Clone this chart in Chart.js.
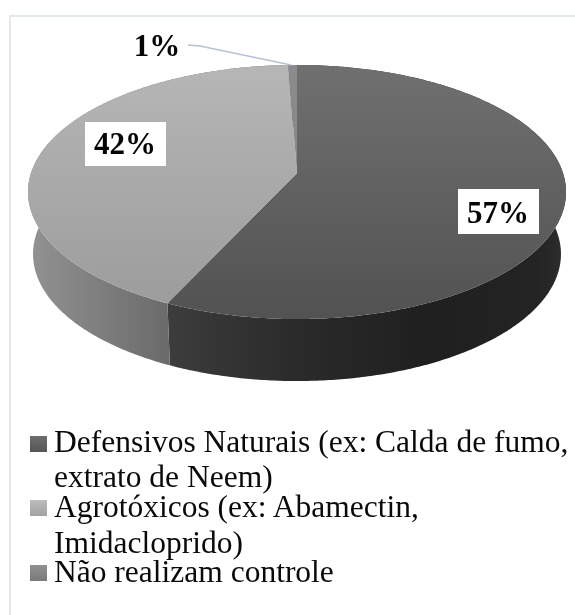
<!DOCTYPE html>
<html>
<head>
<meta charset="utf-8">
<style>
  html, body { margin: 0; padding: 0; background: #fff; }
  #wrap { position: relative; width: 575px; height: 615px; overflow: hidden; filter: blur(0.4px); }
  #frame { position: absolute; left: 9px; top: 15px; width: 600px; height: 700px; border: 2px solid #e4e9f1; }
  canvas { position: absolute; left: 0; top: 0; }
  .swatch { position: absolute; left: 30px; width: 17px; height: 16px; }
  .line { position: absolute; left: 54px; font: 31.5px/36px "Liberation Serif", serif; color: #0a0a0a; white-space: nowrap; }
</style>
</head>
<body>
<div id="wrap">
  <div id="frame"></div>
  <canvas id="pie" width="575" height="615"></canvas>
  <div id="legend"></div>
</div>
<script src="https://cdn.jsdelivr.net/npm/chart.js@4"></script>
<script>
const categories = ["Defensivos Naturais (ex: Calda de fumo, extrato de Neem)", "Agrotóxicos (ex: Abamectin, Imidacloprido)", "Não realizam controle"];
const values = [56.8, 42.4, 0.6];
const legendLines = [
    ["Defensivos Naturais (ex: Calda de fumo,", "extrato de Neem)"],
    ["Agrotóxicos (ex: Abamectin,", "Imidacloprido)"],
    ["Não realizam controle"]
];

// Colours per slice
const topColors = [["#707070", "#525252"], ["#b6b6b6", "#9b9b9b"], ["#8c8c8c", "#808080"]];
const wallColors = [
    [[170, "#3c3c3c"], [300, "#2a2a2a"], [430, "#1f1f1f"], [540, "#242424"], [566, "#2e2e2e"]],
    [[30, "#929292"], [170, "#6a6a6a"]],
    [[280, "#555555"], [300, "#555555"]]
];
const swatchColors = [["#6e6e6e", "#555555"], ["#bcbcbc", "#a2a2a2"], ["#909090", "#7a7a7a"]];
const swatchTops = [436, 500, 565];
const lineTops = [[424, 459], [489, 525], [554]];

// Where the labels sit: text centre and baseline, white box around it
const labelSpots = [
    { x: 498, base: 223, box: [458, 189, 81, 45] },
    { x: 125, base: 154, box: [85, 122, 81, 44] },
    { x: 157, base: 56, box: null }
];
const leader = [[188, 45], [200, 46], [291, 65]];

// Perspective of the 3D disc
const tilt = 0.1496;
const topRim = { rx: 266, ry: 124.2, drop: 0 };
const bottomRim = { rx: 261, ry: 124.2, drop: 62 };

function project(arc, rim, angle) {
    const cx = Math.cos(angle);
    const cy = Math.sin(angle);
    const w = 1 - tilt * cy;
    return [arc.x + rim.rx * cx / w, arc.y + rim.drop + rim.ry * cy / w];
}

function rimPoints(arc, rim) {
    const pts = [];
    const steps = Math.max(2, Math.ceil((arc.endAngle - arc.startAngle) / 0.01));
    for (let i = 0; i <= steps; i++) {
        const a = arc.startAngle + (arc.endAngle - arc.startAngle) * i / steps;
        pts.push(project(arc, rim, a));
    }
    return pts;
}

function tracePoints(ctx, pts) {
    ctx.beginPath();
    pts.forEach((p, i) => {
        if (i === 0) ctx.moveTo(p[0], p[1]);
        else ctx.lineTo(p[0], p[1]);
    });
    ctx.closePath();
}

const disc3d = {
    id: "disc3d",
    beforeDatasetDraw(chart) {
        const ctx = chart.ctx;
        const arcs = chart.getDatasetMeta(0).data;

        // side wall first, top face covers the back of it
        arcs.forEach((arc, i) => {
            const pts = rimPoints(arc, topRim).concat(rimPoints(arc, bottomRim).reverse());
            const x0 = wallColors[i][0][0];
            const x1 = wallColors[i][wallColors[i].length - 1][0];
            const grad = ctx.createLinearGradient(x0, 0, x1, 0);
            wallColors[i].forEach(s => grad.addColorStop((s[0] - x0) / (x1 - x0), s[1]));
            ctx.fillStyle = grad;
            tracePoints(ctx, pts);
            ctx.fill();
        });

        arcs.forEach((arc, i) => {
            const pts = [[arc.x, arc.y]].concat(rimPoints(arc, topRim));
            const grad = ctx.createLinearGradient(0, 65, 0, 319);
            grad.addColorStop(0, topColors[i][0]);
            grad.addColorStop(1, topColors[i][1]);
            ctx.fillStyle = grad;
            tracePoints(ctx, pts);
            ctx.fill();
        });

        return false;
    },
    afterDatasetsDraw(chart) {
        const ctx = chart.ctx;
        const total = values.reduce((a, b) => a + b, 0);

        ctx.strokeStyle = "#b4c3d6";
        ctx.lineWidth = 1.5;
        ctx.beginPath();
        leader.forEach((p, i) => {
            if (i === 0) ctx.moveTo(p[0], p[1]);
            else ctx.lineTo(p[0], p[1]);
        });
        ctx.stroke();

        ctx.font = "bold 31px 'Liberation Serif', serif";
        ctx.textAlign = "center";
        ctx.textBaseline = "alphabetic";
        values.forEach((v, i) => {
            const s = labelSpots[i];
            if (s.box) {
                ctx.fillStyle = "#fff";
                ctx.fillRect(s.box[0], s.box[1], s.box[2], s.box[3]);
            }
            ctx.fillStyle = "#050505";
            ctx.fillText(Math.round(v / total * 100) + "%", s.x, s.base);
        });
    }
};

new Chart(document.getElementById("pie"), {
    type: "pie",
    data: {
        labels: categories,
        datasets: [{
            data: values,
            backgroundColor: topColors.map(c => c[0]),
            borderWidth: 0
        }]
    },
    options: {
        responsive: false,
        animation: false,
        layout: { padding: { left: 28, right: 9, top: 0, bottom: 269 } },
        plugins: { legend: { display: false }, tooltip: { enabled: false } }
    },
    plugins: [disc3d]
});

// Legend
const legend = document.getElementById("legend");
legendLines.forEach((lines, i) => {
    const sw = document.createElement("div");
    sw.className = "swatch";
    sw.style.top = swatchTops[i] + "px";
    sw.style.background = `linear-gradient(${swatchColors[i][0]}, ${swatchColors[i][1]})`;
    legend.appendChild(sw);
    lines.forEach((text, j) => {
        const el = document.createElement("div");
        el.className = "line";
        el.style.top = lineTops[i][j] + "px";
        el.textContent = text;
        legend.appendChild(el);
    });
});
</script>
</body>
</html>
